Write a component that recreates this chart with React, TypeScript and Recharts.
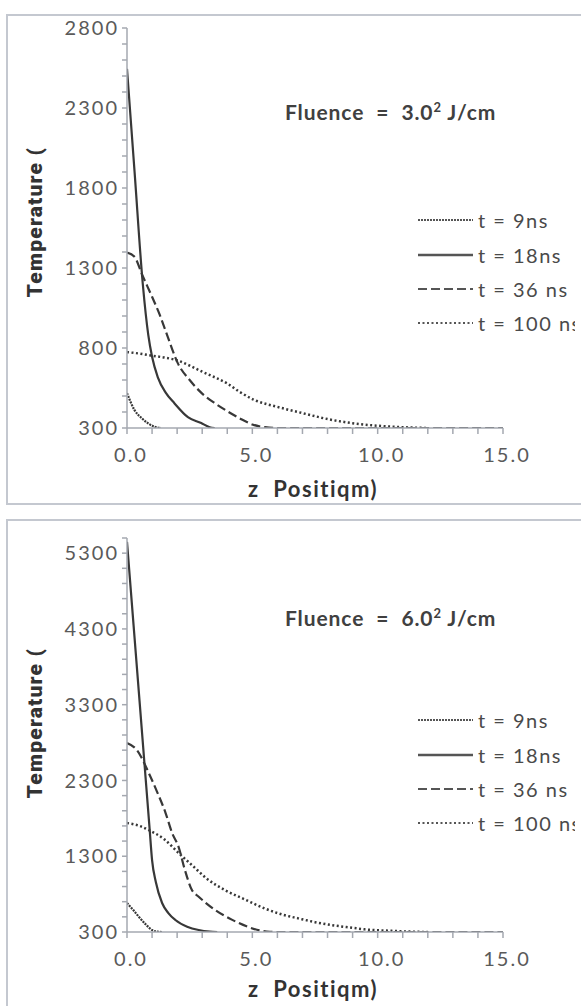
import React from 'react';
import { LineChart, Line, XAxis, YAxis } from 'recharts';

// z position (um) vs temperature, fluence 3.0
const f3t9 = [[0, 518], [0.3, 412], [0.6, 360], [0.85, 328], [1.1, 308], [1.35, 300]];
const f3t18 = [[0, 2545], [0.3, 1905], [0.63, 1200], [0.85, 880], [1.0, 745], [1.23, 617], [1.55, 520], [1.89, 455], [2.43, 368], [2.96, 331], [3.3, 305], [3.5, 300]];
const f3t36 = [[0, 1396], [0.3, 1370], [0.6, 1260], [1.0, 1120], [1.3, 1010], [1.63, 868], [2.03, 704], [2.5, 600], [3.0, 515], [3.5, 455], [4.0, 405], [4.5, 360], [5.0, 322], [5.5, 305], [6.0, 300], [15, 300]];
const f3t100 = [[0, 774], [0.5, 765], [1.0, 752], [1.5, 740], [2.0, 723], [2.5, 690], [3.0, 652], [3.5, 617], [4.0, 578], [4.5, 525], [5.1, 474], [6.0, 432], [7.0, 393], [8.0, 356], [9.0, 330], [10.0, 314], [11.0, 305], [12.0, 300]];

// fluence 6.0
const f6t9 = [[0, 683], [0.25, 590], [0.48, 498], [0.75, 400], [1.0, 326], [1.2, 305], [1.4, 300]];
const f6t18 = [[0, 5450], [0.5, 3350], [0.9, 1670], [1.0, 1250], [1.15, 960], [1.4, 683], [1.65, 550], [1.93, 458], [2.4, 370], [2.86, 326], [3.3, 305], [3.6, 300]];
const f6t36 = [[0, 2794], [0.4, 2700], [0.87, 2397], [1.2, 2150], [1.54, 1870], [1.8, 1606], [2.06, 1421], [2.3, 1130], [2.59, 854], [2.86, 766], [3.52, 590], [4.2, 460], [4.84, 366], [5.3, 320], [5.7, 303], [6.0, 300], [15, 300]];
const f6t100 = [[0, 1738], [0.5, 1700], [0.87, 1645], [1.5, 1520], [2.06, 1342], [2.6, 1180], [3.2, 1000], [3.9, 854], [4.7, 730], [5.5, 610], [6.2, 530], [6.83, 480], [7.5, 430], [8.15, 392], [9.0, 355], [9.47, 335], [10.5, 316], [11.3, 305], [12.0, 300]];

const seriesNames = ['t = 9ns', 't = 18ns', 't = 36 ns', 't = 100 ns'];
const dashes = ['2 1', '', '9 4', '2 2.5'];

const zTicks = [0, 1, 2, 3, 4, 5, 6, 7, 8, 9, 10, 11, 12, 13, 14, 15];
const zLabels = [0, 5, 10, 15];

const yTicksTop = [300, 400, 500, 600, 700, 800, 900, 1000, 1100, 1200, 1300, 1400, 1500, 1600, 1700, 1800, 1900, 2000, 2100, 2200, 2300, 2400, 2500, 2600, 2700, 2800];
const yLabelsTop = [300, 800, 1300, 1800, 2300, 2800];
const yTicksBottom = [300, 500, 700, 900, 1100, 1300, 1500, 1700, 1900, 2100, 2300, 2500, 2700, 2900, 3100, 3300, 3500, 3700, 3900, 4100, 4300, 4500, 4700, 4900, 5100, 5300, 5500];
const yLabelsBottom = [300, 1300, 2300, 3300, 4300, 5300];

const toRows = (pts: number[][]) => pts.map(([z, T]) => ({ z, T }));

const axisColor = '#a4a8b0';
const lineColor = '#383838';
const tickFont = { fontFamily: 'Lato', fontSize: 20, fill: '#5a5a5a', letterSpacing: 2 };

const YTick = ({ x, y, payload, labels }: any) => {
  if (!labels.includes(payload.value)) return <g />;
  return (
    <text x={x} y={y} dy="0.36em" textAnchor="end" {...tickFont}>
      {payload.value}
    </text>
  );
};

const XTick = ({ x, y, payload }: any) => {
  if (!zLabels.includes(payload.value)) return <g />;
  return (
    <text x={x + 4} y={y} dy={26} textAnchor="middle" {...tickFont}>
      {payload.value.toFixed(1)}
    </text>
  );
};

const LegendBox = ({ top }: { top: number }) => (
  <div style={{ position: 'absolute', left: 418, top, width: 157, overflow: 'hidden', whiteSpace: 'nowrap' }}>
    {seriesNames.map((name, i) => (
      <div key={name} style={{ height: 34.4, display: 'flex', alignItems: 'center' }}>
        <svg width={55} height={10} style={{ flexShrink: 0 }}>
          <line x1={0} y1={5} x2={55} y2={5} stroke="#555" strokeWidth={i === 1 ? 2.6 : 2} strokeDasharray={dashes[i] || undefined} />
        </svg>
        <span style={{ marginLeft: 5, fontFamily: 'Lato', fontSize: 20, color: '#4a4a4a', letterSpacing: 1.5, whiteSpace: 'pre' }}>{name}</span>
      </div>
    ))}
  </div>
);

interface PanelProps {
  top: number;
  height: number;
  series: number[][][];
  yDomain: number[];
  yTicks: number[];
  yLabels: number[];
  margin: { top: number; right: number; bottom: number; left: number };
  fluence: string;
  fluenceTop: number;
  legendTop: number;
  yLabelY: number;
  xLabelY: number;
  boxTop: number;
  boxHeight: number;
}

const Panel: React.FC<PanelProps> = (p) => (
  <div style={{ position: 'absolute', left: 0, top: p.top, width: 581, height: p.height }}>
    <div style={{ position: 'absolute', left: 6, top: p.boxTop, width: 600, height: p.boxHeight, border: '2px solid #c4c8d0', boxSizing: 'border-box' }} />
    <LineChart width={581} height={p.height} margin={p.margin} style={{ position: 'absolute', left: 0, top: 0 }}>
      <XAxis
        type="number"
        dataKey="z"
        domain={[0, 15]}
        ticks={zTicks}
        interval={0}
        allowDataOverflow
        height={40}
        tickSize={6}
        tickMargin={2}
        stroke={axisColor}
        strokeWidth={1.5}
        tick={<XTick />}
      />
      <YAxis
        type="number"
        domain={p.yDomain}
        ticks={p.yTicks}
        interval={0}
        allowDataOverflow
        width={127}
        tickSize={5}
        tickMargin={3}
        stroke={axisColor}
        strokeWidth={1.5}
        tick={(props: any) => <YTick {...props} labels={p.yLabels} />}
      />
      {p.series.map((s, i) => (
        <Line
          key={seriesNames[i]}
          data={toRows(s)}
          dataKey="T"
          name={seriesNames[i]}
          type="monotone"
          stroke={lineColor}
          strokeWidth={i === 3 ? 2.5 : 2.2}
          strokeDasharray={dashes[i] || undefined}
          dot={false}
          isAnimationActive={false}
        />
      ))}
    </LineChart>
    <LegendBox top={p.legendTop} />
    <div style={{ position: 'absolute', left: 285, top: p.fluenceTop, fontFamily: 'Lato', fontWeight: 700, fontSize: 21, color: '#404040', whiteSpace: 'pre', lineHeight: '26px', letterSpacing: 0.9 }}>
      {p.fluence}
      <sup style={{ fontSize: 13, lineHeight: 0 }}>2</sup>
      {' J/cm'}
    </div>
    <div style={{ position: 'absolute', left: 35, top: p.yLabelY, transform: 'translate(-50%, -50%) rotate(-90deg)', fontFamily: 'Roboto', fontWeight: 900, fontSize: 21, color: '#333', whiteSpace: 'pre', letterSpacing: 1.2 }}>
      Temperature (
    </div>
    <div style={{ position: 'absolute', left: 313, top: p.xLabelY, transform: 'translate(-50%, -50%)', fontFamily: 'Lato', fontWeight: 700, fontSize: 22, color: '#333', whiteSpace: 'pre', letterSpacing: 1.5 }}>
      {'z  Positiqm)'}
    </div>
  </div>
);

export default function App() {
  return (
    <div style={{ position: 'absolute', left: 0, top: 0, width: 581, height: 1006, overflow: 'hidden', background: '#fff' }}>
      <Panel
        top={0}
        height={500}
        series={[f3t9, f3t18, f3t36, f3t100]}
        yDomain={[300, 2800]}
        yTicks={yTicksTop}
        yLabels={yLabelsTop}
        margin={{ top: 28, right: 78, bottom: 32, left: 0 }}
        fluence={'Fluence  =  3.0'}
        fluenceTop={99}
        legendTop={203}
        yLabelY={222}
        xLabelY={488}
        boxTop={14}
        boxHeight={491}
      />
      <Panel
        top={500}
        height={506}
        series={[f6t9, f6t18, f6t36, f6t100]}
        yDomain={[300, 5500]}
        yTicks={yTicksBottom}
        yLabels={yLabelsBottom}
        margin={{ top: 38, right: 78, bottom: 34, left: 0 }}
        fluence={'Fluence  =  6.0'}
        fluenceTop={105}
        legendTop={203}
        yLabelY={223}
        xLabelY={488}
        boxTop={19}
        boxHeight={520}
      />
    </div>
  );
}
